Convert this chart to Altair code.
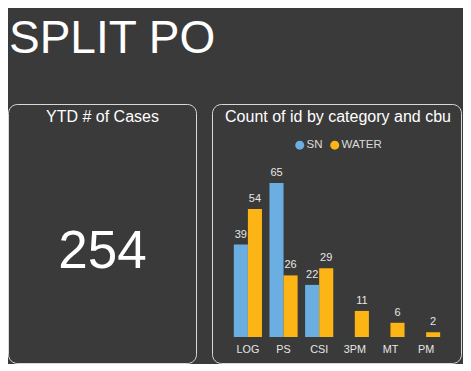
import altair as alt
import pandas as pd

# ---- data ----
page_title = "SPLIT PO"
kpi_title = "YTD # of Cases"
kpi_value = "254"
chart_title = "Count of id by category and cbu"
categories = ["LOG", "PS", "CSI", "3PM", "MT", "PM"]
series = ["SN", "WATER"]
sn_values = [39, 65, 22, None, None, None]
water_values = [54, 26, 29, 11, 6, 2]
series_colors = ["#6aaee2", "#fdb515"]

rows = []
for c, s, w in zip(categories, sn_values, water_values):
    if s is not None:
        rows.append({"category": c, "cbu": "SN", "count": s})
    if w is not None:
        rows.append({"category": c, "cbu": "WATER", "count": w})
df = pd.DataFrame(rows)

FONT = "Liberation Sans"
BG = "#3a3a3a"
W, H = 455, 356

x_enc = alt.X(
    "category:N",
    sort=categories,
    scale=alt.Scale(domain=categories, range=[208, 450], paddingInner=0.21, paddingOuter=0.5),
    axis=alt.Axis(title=None, orient="bottom", offset=-27, domain=False, ticks=False,
                  labelPadding=6, labelColor="#e6e6e6", labelFontSize=10.8, labelFont=FONT,
                  labelAngle=0, grid=False),
)
xo_enc = alt.XOffset("cbu:N", scale=alt.Scale(domain=series, paddingInner=0, paddingOuter=0))
y_enc = alt.Y("count:Q", scale=alt.Scale(domain=[0, 65], range=[329, 175]), axis=None)
color_enc = alt.Color(
    "cbu:N",
    scale=alt.Scale(domain=series, range=series_colors),
    legend=alt.Legend(title=None, orient="none", legendX=286, legendY=131, direction="horizontal",
                      symbolType="circle", symbolSize=81, symbolStrokeWidth=0, symbolOpacity=1,
                      labelFontSize=11.5, labelColor="#dcdcdc", labelFont=FONT,
                      labelOffset=1, columnPadding=6),
)

bars = alt.Chart(df).mark_bar().encode(x=x_enc, xOffset=xo_enc, y=y_enc, color=color_enc)
bar_labels = alt.Chart(df).mark_text(
    dy=-7, baseline="alphabetic", fontSize=11, color="#e6e6e6", font=FONT
).encode(x=x_enc, xOffset=xo_enc, y=y_enc, text="count:Q")


def text_layer(txt, xpos, ypos, size, align):
    return alt.Chart(pd.DataFrame({"t": [txt]})).mark_text(
        align=align, baseline="alphabetic", fontSize=size, color="white", font=FONT
    ).encode(text="t:N", x=alt.value(xpos), y=alt.value(ypos))


def panel(x0, x1, y0, y1):
    return alt.Chart(pd.DataFrame({"p": [0]})).mark_rect(
        cornerRadius=9, fillOpacity=0, stroke="#d8d8d8", strokeWidth=1
    ).encode(x=alt.value(x0), x2=alt.value(x1), y=alt.value(y0), y2=alt.value(y1))


chart = alt.layer(
    panel(0.5, 188.5, 96.5, 355.5),
    panel(204.5, 453.5, 96.5, 355.5),
    text_layer(page_title, 1, 45, 46, "left"),
    text_layer(kpi_title, 94.5, 114, 16, "center"),
    text_layer(kpi_value, 94.5, 260, 53, "center"),
    text_layer(chart_title, 330, 114, 16, "center"),
    bars,
    bar_labels,
).properties(
    width=W, height=H, padding=0, background=BG,
    autosize=alt.AutoSizeParams(type="none"),
).configure_view(stroke="transparent")

chart.save("out.html", embed_options={"renderer": "svg", "actions": False})
